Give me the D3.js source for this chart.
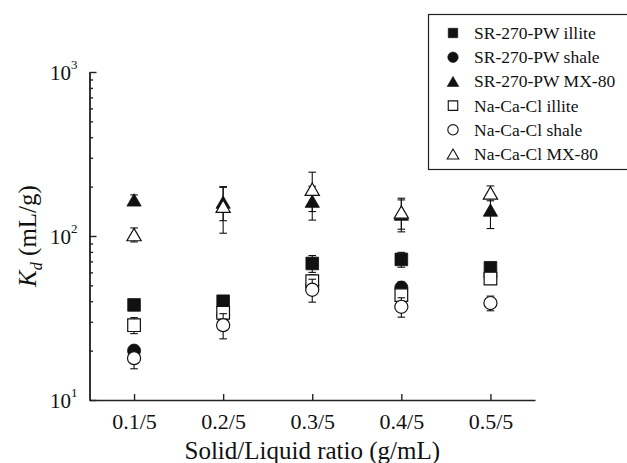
<!DOCTYPE html>
<html>
<head>
<meta charset="utf-8">
<script src="https://cdn.jsdelivr.net/npm/d3@7"></script>
<style>
  html, body { margin: 0; padding: 0; background: #fff; }
  svg { display: block; font-family: "Liberation Serif", "Times New Roman", serif; }
</style>
</head>
<body>
<svg id="chart" width="627" height="463"></svg>
<script>
// Solid/liquid ratios on the x axis
const categories = ["0.1/5", "0.2/5", "0.3/5", "0.4/5", "0.5/5"];

// Kd values (mL/g) and their error bars for each water / solid pair
const srIllite     = [38, 40, 68, 72, 64];
const srIlliteErr  = [2, 3, 8, 7.5, 3];
const srShale      = [20, 33, 50, 48.5, 57];
const srShaleErr   = [1.5, 3, 4, 4, 3];
const srMX80       = [166, 161, 163, 136, 144];
const srMX80Err    = [12, 37, 38, 30, 33];
const naIllite     = [28.6, 34, 53, 43.6, 55];
const naIlliteErr  = [3.2, 3, 5, 6, 3];
const naShale      = [18, 28.6, 47, 37, 39];
const naShaleErr   = [2.5, 5, 7.5, 5, 4];
const naMX80       = [102, 152, 193, 140, 183];
const naMX80Err    = [10, 48, 52, 30, 19];

// y axis decades
const yMajorTicks = [10, 100, 1000];
const yMajorExponents = ["1", "2", "3"];

const series = [
  { name: "SR-270-PW illite", values: srIllite, errs: srIlliteErr, shape: "square",   filled: true },
  { name: "SR-270-PW shale",  values: srShale,  errs: srShaleErr,  shape: "circle",   filled: true },
  { name: "SR-270-PW MX-80",  values: srMX80,   errs: srMX80Err,   shape: "triangle", filled: true },
  { name: "Na-Ca-Cl illite",  values: naIllite, errs: naIlliteErr, shape: "square",   filled: false },
  { name: "Na-Ca-Cl shale",   values: naShale,  errs: naShaleErr,  shape: "circle",   filled: false },
  { name: "Na-Ca-Cl MX-80",   values: naMX80,   errs: naMX80Err,   shape: "triangle", filled: false }
];

const svg = d3.select("#chart");
const plotLeft = 89.5, plotRight = 535, plotTop = 72, plotBottom = 400;

const x = d3.scaleLinear().domain([0.5, 5.5]).range([plotLeft, plotRight]);
const y = d3.scaleLog().domain([10, 1000]).range([plotBottom, plotTop]);

const axisColor = "#222";

// symbol generators; triangles are shifted so their bounding box is centred on the point
const symbolType = { square: d3.symbolSquare, circle: d3.symbolCircle, triangle: d3.symbolTriangle };
const plotSize = { square: 160, circle: 135, triangle: 88 };
const legendSize = { square: 90, circle: 85, triangle: 58 };
function triShift(shape, size) {
  if (shape !== "triangle") return 0;
  const side = Math.sqrt(size * 4 / Math.sqrt(3));
  return side * Math.sqrt(3) / 2 / 6;
}

// ---- y axis (log, ticks inside) ----
const minorTicks = [];
[10, 100].forEach(d => { for (let k = 2; k <= 9; k++) minorTicks.push(d * k); });

const yMinor = svg.append("g").attr("transform", `translate(${plotLeft},0)`)
  .call(d3.axisLeft(y).tickValues(minorTicks).tickSize(-3.5).tickSizeOuter(0).tickFormat(""));
const yMajor = svg.append("g").attr("transform", `translate(${plotLeft},0)`)
  .call(d3.axisLeft(y).tickValues(yMajorTicks).tickSize(-7).tickSizeOuter(0).tickFormat(""));
[yMinor, yMajor].forEach(g => {
  g.selectAll("path, line").attr("stroke", axisColor).attr("stroke-width", 1.4);
});

// decade labels written as powers of ten
const yLab = svg.append("g");
yMajorTicks.forEach((v, i) => {
  const t = yLab.append("text")
    .attr("x", plotLeft - 12)
    .attr("y", y(v) + 8)
    .attr("text-anchor", "end")
    .attr("font-size", 21)
    .attr("fill", "#111");
  t.append("tspan").text("10");
  t.append("tspan").attr("dy", -11).attr("font-size", 13).text(yMajorExponents[i]);
});

// ---- x axis (ticks inside) ----
const xAxis = svg.append("g").attr("transform", `translate(0,${plotBottom})`)
  .call(d3.axisBottom(x).tickValues([1, 2, 3, 4, 5]).tickSize(-6).tickSizeOuter(0)
    .tickPadding(13).tickFormat(d => categories[d - 1]));
xAxis.selectAll("path, line").attr("stroke", axisColor).attr("stroke-width", 1.4);
xAxis.selectAll("text").attr("font-size", 22).attr("fill", "#111")
  .attr("font-family", "Liberation Serif, Times New Roman, serif");

// axis titles
svg.append("text")
  .attr("x", (plotLeft + plotRight) / 2)
  .attr("y", 459)
  .attr("text-anchor", "middle")
  .attr("font-size", 25)
  .attr("fill", "#111")
  .text("Solid/Liquid ratio (g/mL)");

const yt = svg.append("text")
  .attr("transform", `translate(36,${(plotTop + plotBottom) / 2}) rotate(-90)`)
  .attr("text-anchor", "middle")
  .attr("font-size", 25)
  .attr("fill", "#111");
yt.append("tspan").attr("font-style", "italic").text("K");
yt.append("tspan").attr("font-style", "italic").attr("font-size", 16).attr("dy", 6).text("d");
yt.append("tspan").attr("dy", -6).text(" (mL/g)");

// ---- data: error bars then symbols, series in legend order ----
const plot = svg.append("g");
const capHalf = 3.8;
series.forEach(s => {
  const g = plot.append("g");
  s.values.forEach((v, i) => {
    const cx = x(i + 1);
    const e = s.errs[i];
    const y1 = y(v + e), y0 = y(Math.max(v - e, 10.01));
    g.append("line").attr("x1", cx).attr("x2", cx).attr("y1", y1).attr("y2", y0)
      .attr("stroke", "#111").attr("stroke-width", 1.1);
    [y1, y0].forEach(yy => {
      g.append("line").attr("x1", cx - capHalf).attr("x2", cx + capHalf).attr("y1", yy).attr("y2", yy)
        .attr("stroke", "#111").attr("stroke-width", 1.1);
    });
  });
  const dy = triShift(s.shape, plotSize[s.shape]);
  g.selectAll("path.mark").data(s.values).join("path")
    .attr("class", "mark")
    .attr("transform", (v, i) => `translate(${x(i + 1)},${y(v) + dy})`)
    .attr("d", d3.symbol().type(symbolType[s.shape]).size(plotSize[s.shape]))
    .attr("fill", s.filled ? "#111" : "#fff")
    .attr("stroke", "#111")
    .attr("stroke-width", s.filled ? 0.8 : 1.2);
});

// ---- legend ----
const lg = svg.append("g");
lg.append("rect").attr("x", 428.5).attr("y", 14.5).attr("width", 220).attr("height", 155)
  .attr("fill", "#fff").attr("stroke", "#222").attr("stroke-width", 1.2);
const rowY = d3.scaleLinear().domain([0, 5]).range([33, 154]);
series.forEach((s, i) => {
  const dy = triShift(s.shape, legendSize[s.shape]);
  lg.append("path")
    .attr("transform", `translate(453,${rowY(i) + dy})`)
    .attr("d", d3.symbol().type(symbolType[s.shape]).size(legendSize[s.shape]))
    .attr("fill", s.filled ? "#111" : "#fff")
    .attr("stroke", "#111")
    .attr("stroke-width", s.filled ? 0.6 : 1.1);
  lg.append("text")
    .attr("x", 474)
    .attr("y", rowY(i) + 6)
    .attr("font-size", 17.5)
    .attr("fill", "#111")
    .text(s.name);
});
</script>
</body>
</html>
